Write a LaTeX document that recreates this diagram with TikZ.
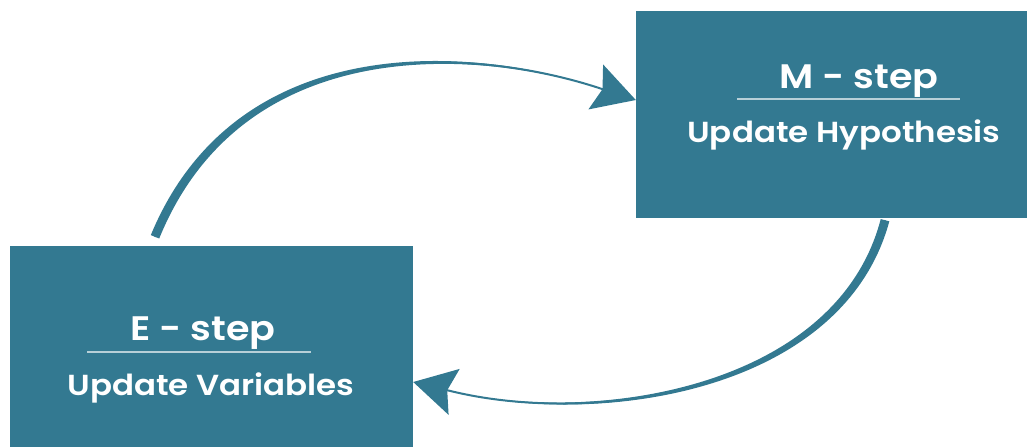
\documentclass[tikz,border=0pt]{standalone}
\usepackage{fontspec}
\setmainfont{Poppins}[UprightFont=* Medium, BoldFont=* SemiBold, FakeStretch=1.12]
\usetikzlibrary{arrows.meta, positioning, calc}
\definecolor{emteal}{RGB}{51,121,145}
\tikzset{
    stepbox/.style={rectangle, fill=emteal, inner sep=0pt},
    steptitle/.style={text=white, font=\bfseries\fontsize{34}{40}\selectfont, anchor=base, inner sep=0pt},
    steptext/.style={text=white, font=\bfseries\fontsize{29}{34}\selectfont, anchor=base, inner sep=0pt},
    divider/.style={white!65!emteal, line width=2.2pt},
    cyclearrow/.style={emteal, line width=2pt},
    cyclehead/.style={emteal, line width=2pt, -{Stealth[length=42pt, width=47pt, inset=7pt]}}
}
\begin{document}
\begin{tikzpicture}[x=1pt, y=-1pt]
    \useasboundingbox (0,0) rectangle (1027,447);
    % the two boxes
    \node[stepbox, minimum width=403pt, minimum height=201pt] (estep) at (211.5,346.5) {};
    \node[stepbox, minimum width=391pt, minimum height=207pt] (mstep) at (831.5,114.5) {};

    % texts
    \node[steptitle] (mtitle) at (859,88) {M - step};
    \node[steptext] (mtext) at (844,142) {Update Hypothesis};
    \draw[divider] (737,99) -- (960,99);
    \node[steptitle] (etitle) at (203,340) {E - step};
    \node[steptext] (etext) at (211,395) {Update Variables};
    \draw[divider] (87,352) -- (311,352);

    % ends of the arrows
    \coordinate (estart) at ($(estep.north)+(-56.5,-9)$);
    \coordinate (mtip) at ($(mstep.west)+(0,-14.5)$);
    \coordinate (mneck) at ($(mtip)+(-38,-12.4)$);
    \coordinate (mstart) at ($(mstep.south)+(53.5,2)$);
    \coordinate (etip) at ($(estep.east)+(0,35.5)$);
    \coordinate (eneck) at ($(etip)+(38.9,9.4)$);

    % E -> M
    \fill[emteal] ($(estart)+(-4.2,-1.7)$) .. controls (237,27) and (474,46) .. (mneck)
        .. controls (474,49) and (243,33) .. ($(estart)+(4.2,1.7)$) -- cycle;
    \draw[cyclearrow] (estart) .. controls (240,30) and (474,47.5) .. (mneck);
    \draw[cyclehead] (mneck) -- (mtip);

    % M -> E
    \fill[emteal] ($(mstart)+(4.3,1.1)$) .. controls (843,393) and (598,428) .. (eneck)
        .. controls (598,425) and (837,387) .. ($(mstart)+(-4.3,-1.1)$) -- cycle;
    \draw[cyclearrow] (mstart) .. controls (840,390) and (598,426.5) .. (eneck);
    \draw[cyclehead] (eneck) -- (etip);
\end{tikzpicture}
\end{document}
